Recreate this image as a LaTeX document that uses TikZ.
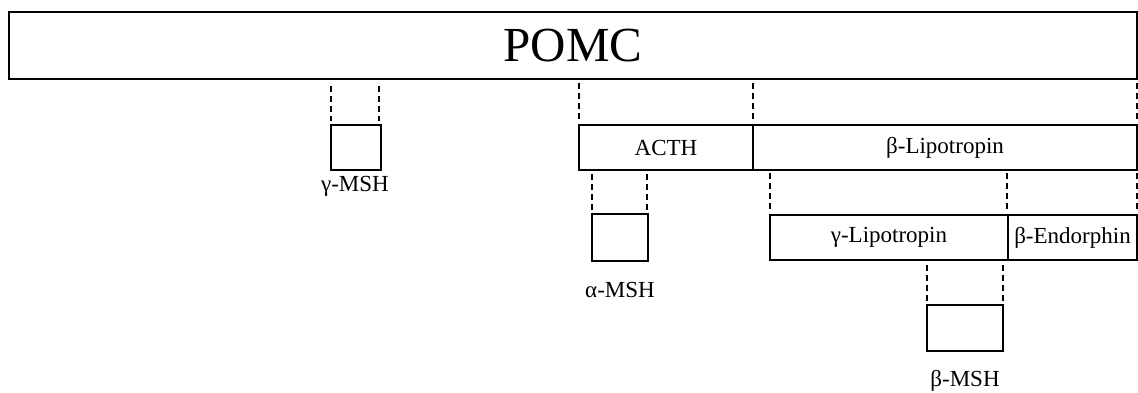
\documentclass[tikz,border=0pt]{standalone}
\usepackage{fontspec}
\setmainfont{Liberation Serif}
\begin{document}
\begin{tikzpicture}[x=1pt,y=-1pt,
  seg/.style={draw=black,line width=2pt,inner sep=0pt,outer sep=0pt,anchor=center,font=\fontsize{23}{25}\selectfont},
  lbl/.style={inner sep=0pt,font=\fontsize{23}{25}\selectfont},
  dsh/.style={draw=black,line width=1.5pt,dash pattern=on 6pt off 4pt}]
\useasboundingbox (0,0) rectangle (1138,392);
\node[seg,minimum width=1128pt,minimum height=67pt,font=\fontsize{49}{52}\selectfont] (P) at (573,45.5) {POMC};
\node[seg,minimum width=50pt,minimum height=45pt] (g) at (356,147.5) {};
\node[lbl] (gl) at (355,186) {γ-MSH};
\node[seg,minimum width=174pt,minimum height=45pt] (A) at (666,147.5) {ACTH};
\node[seg,minimum width=384pt,minimum height=45pt] (B) at (945,147.5) {β-Lipotropin};
\node[seg,minimum width=56pt,minimum height=47pt] (a) at (620,237.5) {};
\node[lbl] (al) at (620,290) {α-MSH};
\node[seg,minimum width=238pt,minimum height=45pt] (GL) at (889,237.5) {γ-Lipotropin};
\node[seg,minimum width=129pt,minimum height=45pt] (E) at (1072.5,237.5) {β-Endorphin};
\node[seg,minimum width=76pt,minimum height=46pt] (b) at (965,328) {};
\node[lbl] (bl) at (965,381) {β-MSH};
% dashed guides
\draw[dsh,shorten <=7pt,shorten >=4pt] (g.north west |- P.south) -- (g.north west);
\draw[dsh,shorten <=7pt,shorten >=4pt] ([xshift=-2pt]g.north east |- P.south) -- ([xshift=-2pt]g.north east);
\draw[dsh,shorten <=4pt,shorten >=4pt] (A.north west |- P.south) -- (A.north west);
\draw[dsh,shorten <=4pt,shorten >=4pt] (A.north east |- P.south) -- (A.north east);
\draw[dsh,shorten <=4pt,shorten >=4pt] (B.north east |- P.south) -- (B.north east);
\draw[dsh,shorten <=4pt,shorten >=3pt] (a.north west |- A.south) -- (a.north west);
\draw[dsh,shorten <=4pt,shorten >=3pt] ([xshift=-1pt]a.north east |- A.south) -- ([xshift=-1pt]a.north east);
\draw[dsh,shorten <=3pt,shorten >=4pt] (GL.north west |- B.south) -- (GL.north west);
\draw[dsh,shorten <=3pt,shorten >=4pt] ([xshift=-1pt]GL.north east |- B.south) -- ([xshift=-1pt]GL.north east);
\draw[dsh,shorten <=3pt,shorten >=4pt] (E.north east |- B.south) -- (E.north east);
\draw[dsh,shorten <=5pt,shorten >=3pt] (b.north west |- GL.south) -- (b.north west);
\draw[dsh,shorten <=5pt,shorten >=3pt] (b.north east |- GL.south) -- (b.north east);
\end{tikzpicture}
\end{document}
